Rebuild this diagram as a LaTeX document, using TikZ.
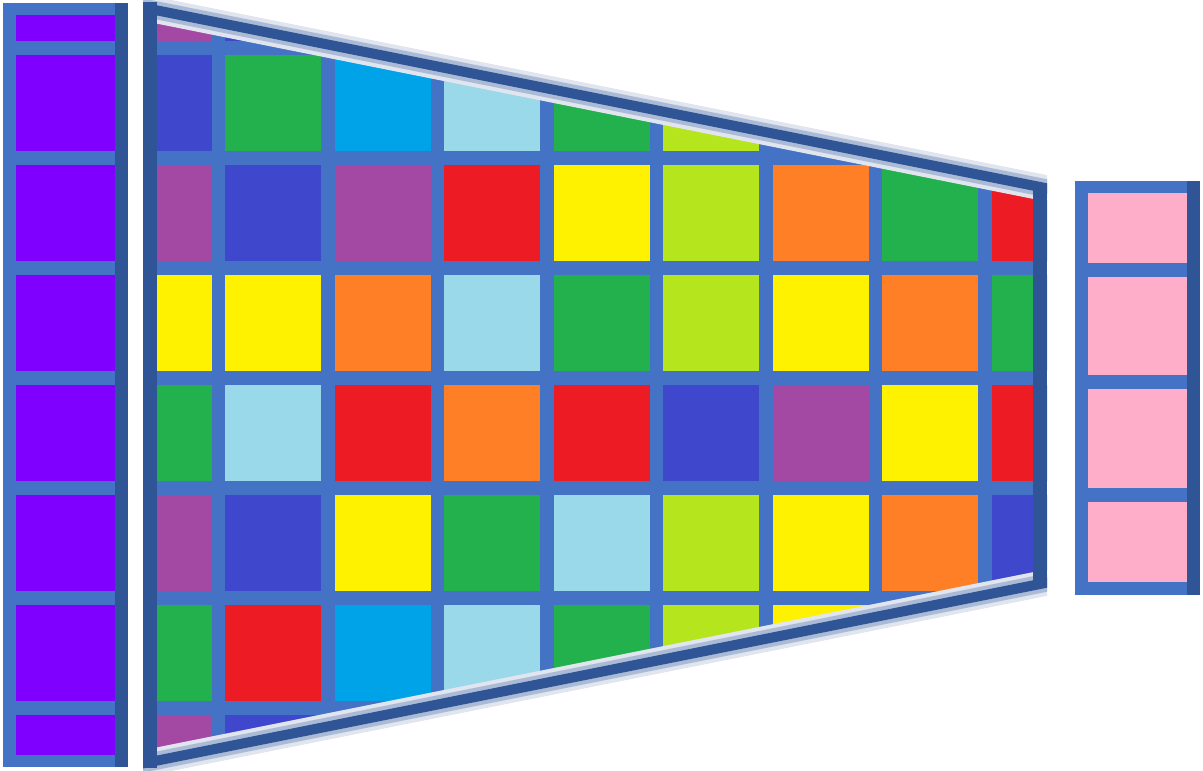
\documentclass[tikz,border=0pt]{standalone}
\usepackage{xcolor}
\definecolor{cIn}{HTML}{7F00FF}
\definecolor{cOut}{HTML}{FFAEC9}
\definecolor{cGrid}{HTML}{4472C4}
\definecolor{cEdge}{HTML}{2F5597}
\definecolor{cPu}{HTML}{A349A4}
\definecolor{cBl}{HTML}{3F48CC}
\definecolor{cGn}{HTML}{22B14C}
\definecolor{cCy}{HTML}{00A2E8}
\definecolor{cLb}{HTML}{99D9EA}
\definecolor{cLi}{HTML}{B5E61D}
\definecolor{cRd}{HTML}{ED1C24}
\definecolor{cYe}{HTML}{FFF200}
\definecolor{cOr}{HTML}{FF7F27}
\begin{document}
\begin{tikzpicture}[
  x=0.5pt, y=-0.5pt,
  gridbg/.style={fill=cGrid},
  edgebar/.style={fill=cEdge},
  halo/.style={line width=#1}
]
\useasboundingbox (0,0) rectangle (1203,770);
% input column
\fill[gridbg] (3,3) rectangle (128,767);
\begin{scope}
  \clip (16,16) rectangle (115,754);
  \foreach \r in {0,...,7}
    \fill[cIn] (16,{-55+110*\r}) rectangle +(99,96);
\end{scope}
\fill[edgebar] (115,3) rectangle (128,767);
% feature grid
\begin{scope}
  \clip (143,19.6) -- (1047,200.4) -- (1047,570.6) -- (143,751.4) -- cycle;
  \fill[gridbg] (143,0) rectangle (1047,770);
  \foreach \r/\cols in {
    0/{cPu,cBl},
    1/{cBl,cGn,cCy,cLb,cGn,cLi,cGrid},
    2/{cPu,cBl,cPu,cRd,cYe,cLi,cOr,cGn,cRd},
    3/{cYe,cYe,cOr,cLb,cGn,cLi,cYe,cOr,cGn},
    4/{cGn,cLb,cRd,cOr,cRd,cBl,cPu,cYe,cRd},
    5/{cPu,cBl,cYe,cGn,cLb,cLi,cYe,cOr,cBl},
    6/{cGn,cRd,cCy,cLb,cGn,cLi,cYe,cGrid},
    7/{cPu,cBl}}
    \foreach \c [count=\k from 0] in \cols
      \fill[fill=\c] ({115.5+109.5*\k},{-55+110*\r}) rectangle +(96,96);
\end{scope}
% slanted edges
\begin{scope}
  \clip (143,0) rectangle (1047,770);
  \foreach \w/\p in {13pt/15,9pt/40,5pt/100} {
    \draw[halo=\w, cEdge!\p!white] (130,5) -- (1060,191);
    \draw[halo=\w, cEdge!\p!white] (130,766) -- (1060,580);
  }
\end{scope}
\fill[edgebar] (143,2) rectangle (157,768);
\fill[edgebar] (1033,187) rectangle (1047,582);
% output column
\fill[gridbg] (1075,181) rectangle (1200,595);
\foreach \t/\b in {193/263,277/375,389/488,502/582}
  \fill[cOut] (1088,\t) rectangle (1187,\b);
\fill[edgebar] (1187,181) rectangle (1200,595);
\end{tikzpicture}
\end{document}
